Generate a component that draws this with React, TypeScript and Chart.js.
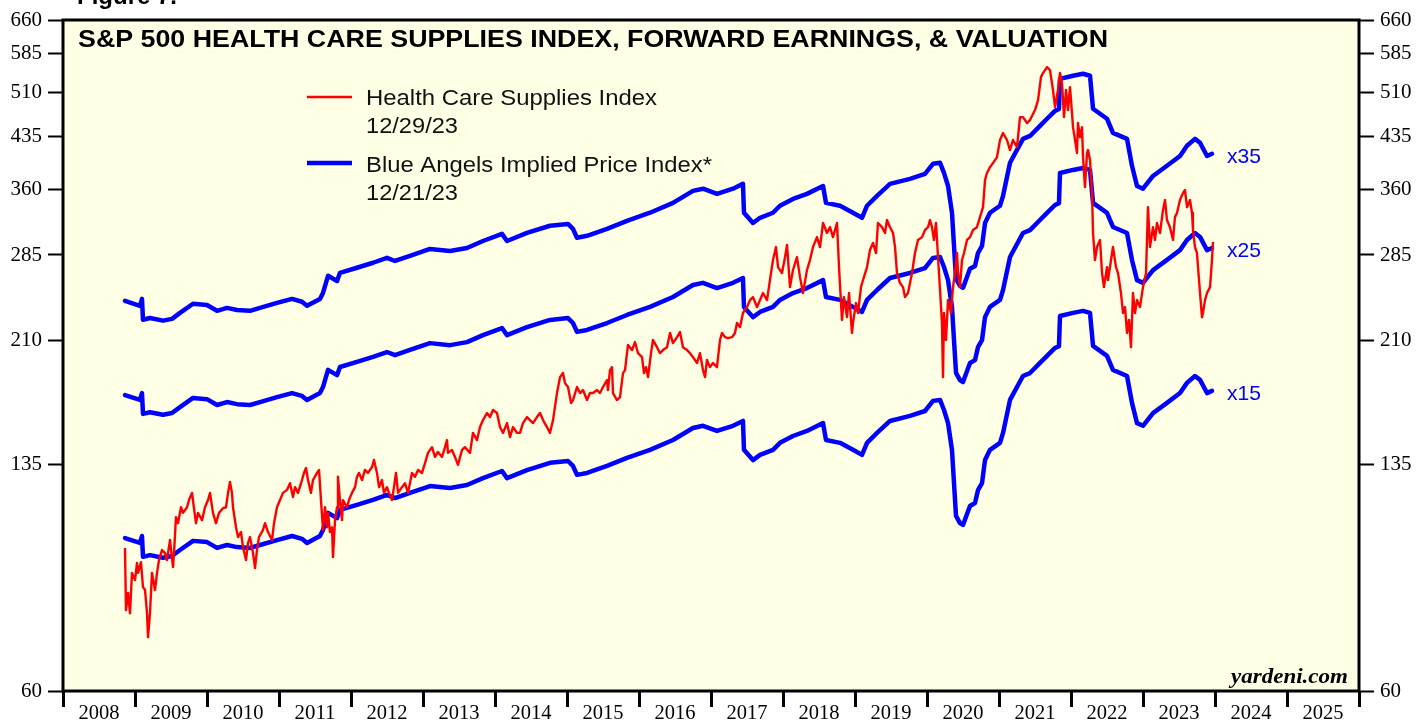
import React, { useEffect, useRef } from "react";
import { Chart, registerables } from "chart.js";

Chart.register(...registerables);

// ---------- data ----------
const yearLabels = ["2008","2009","2010","2011","2012","2013","2014","2015","2016","2017","2018","2019","2020","2021","2022","2023","2024","2025"];
const yTickValues = [60, 135, 210, 285, 360, 435, 510, 585, 660];
const multiples = [35, 25, 15];
const multipleLabels = ["x35", "x25", "x15"];

// S&P 500 Health Care Supplies index (decimal year, index level)
const hcsDates = [
  2008.861, 2008.875, 2008.903, 2008.931, 2008.958,
  2009.000, 2009.028, 2009.042, 2009.083, 2009.111, 2009.139, 2009.167, 2009.181, 2009.208, 2009.236, 2009.278, 2009.306, 2009.333, 2009.375, 2009.417, 2009.444, 2009.486, 2009.528, 2009.542, 2009.569, 2009.597, 2009.639, 2009.667, 2009.722, 2009.750, 2009.792, 2009.819, 2009.847, 2009.875, 2009.931, 2009.972,
  2010.014, 2010.042, 2010.083, 2010.125, 2010.167, 2010.222, 2010.264, 2010.292, 2010.319, 2010.347, 2010.361, 2010.403, 2010.431, 2010.472, 2010.500, 2010.542, 2010.569, 2010.597, 2010.639, 2010.667, 2010.694, 2010.722, 2010.778, 2010.806, 2010.847, 2010.903, 2010.931, 2010.972,
  2011.014, 2011.056, 2011.111, 2011.153, 2011.194, 2011.222, 2011.264, 2011.319, 2011.347, 2011.375, 2011.403, 2011.444, 2011.472, 2011.528, 2011.556, 2011.583, 2011.611, 2011.639, 2011.667, 2011.681, 2011.708, 2011.736, 2011.750, 2011.778, 2011.806, 2011.819, 2011.847, 2011.875, 2011.889, 2011.944, 2011.972,
  2012.014, 2012.056, 2012.083, 2012.111, 2012.153, 2012.194, 2012.236, 2012.292, 2012.319, 2012.361, 2012.389, 2012.431, 2012.458, 2012.500, 2012.528, 2012.569, 2012.597, 2012.625, 2012.653, 2012.708, 2012.750, 2012.792, 2012.847, 2012.889, 2012.931, 2012.986,
  2013.028, 2013.069, 2013.125, 2013.167, 2013.208, 2013.264, 2013.306, 2013.333, 2013.347, 2013.403, 2013.444, 2013.486, 2013.542, 2013.583, 2013.653, 2013.694, 2013.750, 2013.792, 2013.833, 2013.889, 2013.931, 2013.972,
  2014.028, 2014.069, 2014.111, 2014.167, 2014.208, 2014.250, 2014.306, 2014.347, 2014.389, 2014.444, 2014.486, 2014.528, 2014.583, 2014.625, 2014.667, 2014.722, 2014.764, 2014.806, 2014.861, 2014.903, 2014.944, 2014.972,
  2015.014, 2015.056, 2015.083, 2015.139, 2015.181, 2015.222, 2015.278, 2015.319, 2015.361, 2015.417, 2015.458, 2015.500, 2015.556, 2015.569, 2015.597, 2015.625, 2015.639, 2015.694, 2015.736, 2015.778, 2015.806, 2015.833, 2015.847, 2015.903, 2015.944, 2015.986,
  2016.042, 2016.069, 2016.097, 2016.125, 2016.167, 2016.194, 2016.250, 2016.292, 2016.333, 2016.389, 2016.431, 2016.472, 2016.528, 2016.569, 2016.611, 2016.667, 2016.708, 2016.750, 2016.806, 2016.847, 2016.889, 2016.917, 2016.944, 2016.986,
  2017.028, 2017.083, 2017.125, 2017.153, 2017.194, 2017.236, 2017.292, 2017.333, 2017.361, 2017.403, 2017.444, 2017.500, 2017.542, 2017.583, 2017.639, 2017.681, 2017.722, 2017.778, 2017.819, 2017.861, 2017.903, 2017.931, 2017.986,
  2018.028, 2018.056, 2018.097, 2018.139, 2018.194, 2018.236, 2018.278, 2018.333, 2018.375, 2018.417, 2018.472, 2018.514, 2018.556, 2018.611, 2018.653, 2018.694, 2018.750, 2018.778, 2018.819, 2018.847, 2018.889, 2018.917, 2018.958, 2018.972,
  2019.014, 2019.042, 2019.083, 2019.111, 2019.167, 2019.208, 2019.250, 2019.292, 2019.319, 2019.375, 2019.417, 2019.444, 2019.486, 2019.528, 2019.556, 2019.583, 2019.625, 2019.667, 2019.694, 2019.736, 2019.792, 2019.833, 2019.875, 2019.931, 2019.972,
  2020.014, 2020.042, 2020.069, 2020.097, 2020.125, 2020.153, 2020.181, 2020.208, 2020.222, 2020.236, 2020.264, 2020.292, 2020.333, 2020.361, 2020.389, 2020.417, 2020.431, 2020.458, 2020.486, 2020.514, 2020.556, 2020.597, 2020.639, 2020.694, 2020.736, 2020.778, 2020.806, 2020.833, 2020.875, 2020.917, 2020.972,
  2021.014, 2021.056, 2021.111, 2021.153, 2021.194, 2021.250, 2021.292, 2021.333, 2021.389, 2021.431, 2021.500, 2021.542, 2021.583, 2021.611, 2021.667, 2021.708, 2021.750, 2021.778, 2021.819, 2021.847, 2021.875, 2021.903, 2021.931, 2021.958, 2021.986,
  2022.014, 2022.028, 2022.056, 2022.083, 2022.097, 2022.125, 2022.153, 2022.167, 2022.194, 2022.222, 2022.236, 2022.264, 2022.292, 2022.306, 2022.333, 2022.361, 2022.403, 2022.431, 2022.458, 2022.500, 2022.514, 2022.556, 2022.583, 2022.625, 2022.653, 2022.694, 2022.722, 2022.750, 2022.778, 2022.806, 2022.833, 2022.861, 2022.889, 2022.917, 2022.958,
  2023.000, 2023.042, 2023.069, 2023.097, 2023.139, 2023.167, 2023.194, 2023.236, 2023.278, 2023.306, 2023.333, 2023.375, 2023.417, 2023.444, 2023.472, 2023.514, 2023.556, 2023.583, 2023.611, 2023.653, 2023.681, 2023.694, 2023.722, 2023.750, 2023.764, 2023.792, 2023.819, 2023.833, 2023.861, 2023.889, 2023.931, 2023.958, 2023.972,
];
const hcsIndex = [
  100.0, 80.1, 85.2, 79.2, 91.5,
  89.2, 94.8, 91.5, 95.1, 87.0, 86.1, 79.2, 72.7, 79.2, 91.5, 86.1, 91.5, 95.8, 99.3, 98.2, 95.8, 102.9, 93.4, 98.2, 111.7, 109.3, 115.7, 113.4, 115.7, 118.7, 121.8, 115.3, 109.3, 113.4, 110.5, 115.7,
  118.7, 121.8, 113.4, 109.3, 113.4, 115.3, 115.7, 121.8, 126.6, 121.8, 115.7, 107.7, 104.0, 105.9, 100.3, 95.8, 101.8, 104.0, 98.2, 93.1, 99.3, 104.0, 106.7, 109.3, 105.9, 102.9, 109.3, 115.7,
  118.7, 121.8, 123.1, 126.1, 120.0, 124.3, 121.8, 127.5, 130.8, 133.1, 127.5, 121.8, 127.5, 130.8, 132.2, 118.7, 106.7, 115.7, 107.7, 113.4, 105.9, 107.7, 96.8, 110.5, 115.7, 129.0, 118.7, 110.5, 118.7, 115.7, 118.7,
  121.8, 124.3, 129.0, 130.8, 127.5, 132.2, 130.8, 133.6, 137.0, 130.8, 124.3, 127.5, 121.8, 124.3, 121.8, 118.7, 124.3, 130.8, 121.8, 124.3, 126.1, 121.8, 130.8, 129.0, 132.2, 130.8,
  135.5, 140.5, 143.4, 138.5, 141.0, 138.5, 143.4, 147.1, 140.5, 142.0, 138.5, 134.6, 142.0, 143.4, 140.5, 150.9, 147.1, 154.1, 158.0, 162.0, 159.7, 163.8,
  162.0, 154.1, 150.9, 156.3, 148.7, 154.1, 150.9, 150.9, 156.3, 159.7, 158.0, 156.3, 159.7, 162.0, 158.0, 154.1, 150.9, 158.0, 174.0, 184.2, 186.9, 180.3,
  177.8, 167.9, 169.7, 177.8, 174.0, 175.9, 169.7, 174.0, 174.0, 175.9, 174.0, 177.8, 182.3, 175.9, 188.9, 190.9, 174.0, 169.7, 171.5, 186.9, 188.9, 200.7, 206.6, 202.9, 208.8, 200.7,
  197.8, 186.9, 190.9, 184.2, 200.7, 210.3, 205.0, 200.7, 202.9, 205.0, 215.7, 208.0, 212.5, 216.4, 205.0, 202.9, 200.7, 197.8, 193.7, 200.7, 188.9, 184.2, 195.8, 190.9,
  193.7, 190.9, 210.3, 215.7, 212.5, 211.8, 212.5, 215.7, 223.5, 220.3, 231.6, 236.6, 242.6, 245.2, 236.6, 242.6, 248.8, 242.6, 260.6, 279.9, 293.2, 272.9, 267.2,
  282.8, 295.3, 254.1, 270.1, 282.8, 263.3, 248.8, 270.1, 279.9, 293.2, 303.8, 293.2, 319.5, 308.3, 314.8, 303.8, 319.5, 272.9, 225.9, 245.2, 228.2, 248.8, 215.7, 223.5,
  240.0, 231.6, 254.1, 260.6, 272.9, 290.1, 297.5, 287.0, 319.5, 314.8, 308.3, 322.9, 314.8, 308.3, 293.2, 267.2, 257.8, 254.1, 245.2, 248.8, 267.2, 287.0, 300.7, 303.8, 311.6,
  314.8, 322.9, 314.8, 300.7, 319.5, 282.8, 251.5, 223.5, 184.2, 231.6, 210.3, 242.6, 231.6, 254.1, 267.2, 287.0, 267.2, 254.1, 279.9, 287.0, 300.7, 303.8, 311.6, 314.8, 326.3, 338.1, 372.5, 382.0, 390.1, 395.8, 404.3,
  429.8, 440.6, 429.8, 414.7, 429.8, 419.0, 466.4, 466.4, 456.7, 461.6, 478.4, 495.8, 538.1, 546.0, 557.7, 551.9, 513.9, 483.4, 513.9, 546.0, 526.9, 466.4, 513.9, 478.4, 519.3,
  473.3, 450.0, 429.8, 410.3, 456.7, 434.2, 450.0, 404.3, 363.2, 410.3, 414.7, 400.1, 355.6, 308.3, 279.9, 293.2, 300.7, 267.2, 254.1, 272.9, 260.6, 279.9, 293.2, 272.9, 267.2, 248.8, 231.6, 236.6, 215.7, 225.9, 205.0, 248.8, 231.6, 242.6, 236.6,
  254.1, 267.2, 338.1, 293.2, 314.8, 300.7, 319.5, 308.3, 334.7, 346.8, 322.9, 314.8, 300.7, 326.3, 331.1, 346.8, 355.6, 359.5, 338.1, 346.8, 331.1, 311.6, 293.2, 287.0, 272.9, 248.8, 228.2, 231.6, 242.6, 248.8, 254.1, 279.9, 298.6,
];

// Forward earnings (decimal year, $ per share); Blue Angels = earnings x multiple
const earnDates = [
  2008.861, 2009.069, 2009.097, 2009.111, 2009.208, 2009.389, 2009.514, 2009.625, 2009.806, 2010.000,
  2010.139, 2010.278, 2010.417, 2010.597, 2010.736, 2010.972, 2011.181, 2011.319, 2011.389, 2011.569,
  2011.611, 2011.681, 2011.806, 2011.847, 2012.083, 2012.306, 2012.500, 2012.611, 2012.819, 2013.097,
  2013.375, 2013.611, 2013.833, 2014.097, 2014.167, 2014.444, 2014.764, 2015.014, 2015.083, 2015.139,
  2015.278, 2015.556, 2015.833, 2016.153, 2016.472, 2016.750, 2016.889, 2017.083, 2017.306, 2017.444,
  2017.458, 2017.583, 2017.681, 2017.861, 2017.958, 2018.139, 2018.333, 2018.556, 2018.597, 2018.792,
  2018.972, 2019.097, 2019.167, 2019.306, 2019.486, 2019.764, 2019.972, 2020.083, 2020.181, 2020.236,
  2020.292, 2020.347, 2020.375, 2020.403, 2020.458, 2020.500, 2020.597, 2020.667, 2020.708, 2020.764,
  2020.806, 2020.875, 2021.014, 2021.056, 2021.153, 2021.333, 2021.431, 2021.569, 2021.667, 2021.778,
  2021.833, 2021.847, 2022.028, 2022.167, 2022.264, 2022.306, 2022.500, 2022.583, 2022.778, 2022.847,
  2022.917, 2023.000, 2023.139, 2023.333, 2023.514, 2023.611, 2023.722, 2023.792, 2023.889, 2023.958,
];
const fwdEarnings = [
  6.91, 6.79, 6.96, 6.46, 6.50, 6.44, 6.48, 6.62, 6.84, 6.81,
  6.67, 6.74, 6.69, 6.67, 6.74, 6.86, 6.96, 6.89, 6.79, 6.96,
  7.11, 7.56, 7.42, 7.64, 7.78, 7.92, 8.06, 7.97, 8.12, 8.32,
  8.26, 8.35, 8.56, 8.78, 8.56, 8.81, 9.04, 9.10, 8.94, 8.66,
  8.72, 8.94, 9.20, 9.47, 9.81, 10.24, 10.32, 10.13, 10.32, 10.50,
  9.47, 9.13, 9.30, 9.47, 9.71, 9.95, 10.13, 10.42, 9.81, 9.71,
  9.47, 9.30, 9.71, 10.06, 10.50, 10.69, 10.88, 11.28, 11.32, 10.92,
  10.42, 9.47, 8.41, 7.48, 7.29, 7.24, 7.75, 7.83, 8.20, 8.41,
  9.13, 9.47, 9.71, 10.06, 11.32, 12.33, 12.46, 12.92, 13.25, 13.63,
  13.72, 15.28, 15.45, 15.56, 15.45, 13.73, 13.25, 12.60, 12.33, 11.20,
  10.42, 10.32, 10.80, 11.20, 11.60, 12.03, 12.33, 12.16, 11.60, 11.69,
];

const titleText = "S&P 500 HEALTH CARE SUPPLIES INDEX, FORWARD EARNINGS, & VALUATION";
const legendRows = [
  { color: "#ff0000", width: 2.5, label: "Health Care Supplies Index", date: "12/29/23" },
  { color: "#0000ff", width: 4.5, label: "Blue Angels Implied Price Index*", date: "12/21/23" },
];

const SANS = '"Liberation Sans", Arial, sans-serif';
const SERIF = '"Liberation Serif", "Times New Roman", serif';

function fitText(ctx: CanvasRenderingContext2D, text: string, x: number, y: number, font: string, width: number | null, align: "left" | "right" | "center" = "left") {
  ctx.save();
  ctx.font = font;
  ctx.textBaseline = "alphabetic";
  ctx.textAlign = "left";
  const w = ctx.measureText(text).width;
  const sx = width ? width / w : 1;
  const drawnW = w * sx;
  let x0 = x;
  if (align === "right") x0 = x - drawnW;
  if (align === "center") x0 = x - drawnW / 2;
  ctx.translate(x0, y);
  ctx.scale(sx, 1);
  ctx.fillText(text, 0, 0);
  ctx.restore();
}

const decoPlugin = {
  id: "deco",
  beforeDraw(chart: any) {
    const { ctx, chartArea: a } = chart;
    ctx.save();
    ctx.fillStyle = "#ffffff";
    ctx.fillRect(0, 0, chart.width, chart.height);
    ctx.fillStyle = "#ffffe6";
    ctx.fillRect(a.left, a.top, a.right - a.left, a.bottom - a.top);
    ctx.restore();
  },
  afterDraw(chart: any) {
    const { ctx, chartArea: a, scales } = chart;
    const xs = scales.x;
    const ys = scales.y;
    ctx.save();
    // frame
    ctx.strokeStyle = "#000";
    ctx.lineWidth = 3;
    ctx.strokeRect(a.left, a.top, a.right - a.left, a.bottom - a.top);

    // figure caption (cut off at top)
    ctx.fillStyle = "#000";
    fitText(ctx, "Figure 7.", 77, 4, `bold 24px ${SANS}`, null);

    // title
    ctx.fillStyle = "#000";
    fitText(ctx, titleText, 78, 47, `bold 23px ${SANS}`, 1030);

    // legend
    const rowY = [97, 163];
    const labelBase = [105, 172];
    const dateBase = [133, 200];
    const labelW = [291, 346];
    legendRows.forEach((r, i) => {
      ctx.strokeStyle = r.color;
      ctx.lineWidth = r.width;
      ctx.lineCap = "butt";
      ctx.beginPath();
      ctx.moveTo(307, rowY[i]);
      ctx.lineTo(352, rowY[i]);
      ctx.stroke();
      ctx.fillStyle = "#111";
      fitText(ctx, r.label, 366, labelBase[i], `22px ${SANS}`, labelW[i]);
      fitText(ctx, r.date, 366, dateBase[i], `22px ${SANS}`, 92);
    });

    // multiple labels at the end of the blue lines
    const lastI = earnDates.length - 1;
    const lx = xs.getPixelForValue(earnDates[lastI]) + 15;
    ctx.fillStyle = "#0000ff";
    multiples.forEach((m, i) => {
      const ly = ys.getPixelForValue(fwdEarnings[lastI] * m);
      fitText(ctx, multipleLabels[i], lx, ly + 9, `21px ${SANS}`, 34);
    });

    // year labels centred between ticks
    ctx.fillStyle = "#000";
    yearLabels.forEach((yl) => {
      const yr = parseInt(yl, 10);
      const cx = xs.getPixelForValue(yr + 0.5);
      fitText(ctx, yl, cx, 719, `20px ${SERIF}`, 41, "center");
    });

    // source
    ctx.fillStyle = "#000";
    fitText(ctx, "yardeni.com", 1348, 683, `bold italic 21px ${SERIF}`, 117, "right");
    ctx.restore();
  },
};

export default function App() {
  const ref = useRef<HTMLCanvasElement | null>(null);

  useEffect(() => {
    document.body.style.margin = "0";
    const canvas = ref.current;
    if (!canvas) return;

    const blueSets = multiples.map((m) => ({
      label: `x${m}`,
      data: earnDates.map((d, i) => ({ x: d, y: fwdEarnings[i] * m })),
      borderColor: "#0000ff",
      borderWidth: 4.5,
      pointRadius: 0,
      tension: 0,
      borderJoinStyle: "round" as const,
      borderCapStyle: "round" as const,
      order: 2,
      yAxisID: "y",
    }));

    const redSet = {
      label: "Health Care Supplies Index",
      data: hcsDates.map((d, i) => ({ x: d, y: hcsIndex[i] })),
      borderColor: "#ff0000",
      borderWidth: 2.4,
      pointRadius: 0,
      tension: 0,
      borderJoinStyle: "round" as const,
      order: 1,
      yAxisID: "y",
    };

    const yAxisCommon = (position: "left" | "right", width: number) => ({
      type: "logarithmic" as const,
      position,
      min: 60,
      max: 660,
      afterBuildTicks: (s: any) => {
        s.ticks = yTickValues.map((v) => ({ value: v }));
      },
      afterFit: (s: any) => {
        s.width = width;
      },
      ticks: {
        autoSkip: false,
        padding: 6,
        color: "#000",
        font: { family: SERIF, size: 21 },
        callback: (v: any) => String(v),
      },
      grid: {
        drawOnChartArea: false,
        drawTicks: true,
        tickLength: 15,
        tickWidth: 2,
        tickColor: "#000",
      },
      border: { display: false },
    });

    const chart = new Chart(canvas, {
      type: "line",
      data: { datasets: [redSet, ...blueSets] as any },
      options: {
        animation: false,
        responsive: false,
        devicePixelRatio: 1,
        events: [],
        layout: { padding: { top: 20, left: 0, right: 0, bottom: 0 } },
        plugins: {
          legend: { display: false },
          tooltip: { enabled: false },
          title: { display: false },
        },
        scales: {
          x: {
            type: "linear",
            position: "bottom",
            min: 2008,
            max: 2026,
            afterBuildTicks: (s: any) => {
              const t = [];
              for (let y = 2008; y <= 2026; y++) t.push({ value: y });
              s.ticks = t;
            },
            afterFit: (s: any) => {
              s.height = 30;
            },
            ticks: { autoSkip: false, callback: () => "", font: { size: 1 } },
            grid: {
              drawOnChartArea: false,
              drawTicks: true,
              tickLength: 16,
              tickWidth: 3,
              tickColor: "#000",
            },
            border: { display: false },
          },
          y: yAxisCommon("left", 63),
          y2: yAxisCommon("right", 59),
        },
      } as any,
      plugins: [decoPlugin],
    });

    return () => {
      chart.destroy();
    };
  }, []);

  return (
    <div style={{ width: 1418, height: 721, position: "relative" }}>
      <canvas ref={ref} width={1418} height={721} style={{ display: "block" }} />
    </div>
  );
}
